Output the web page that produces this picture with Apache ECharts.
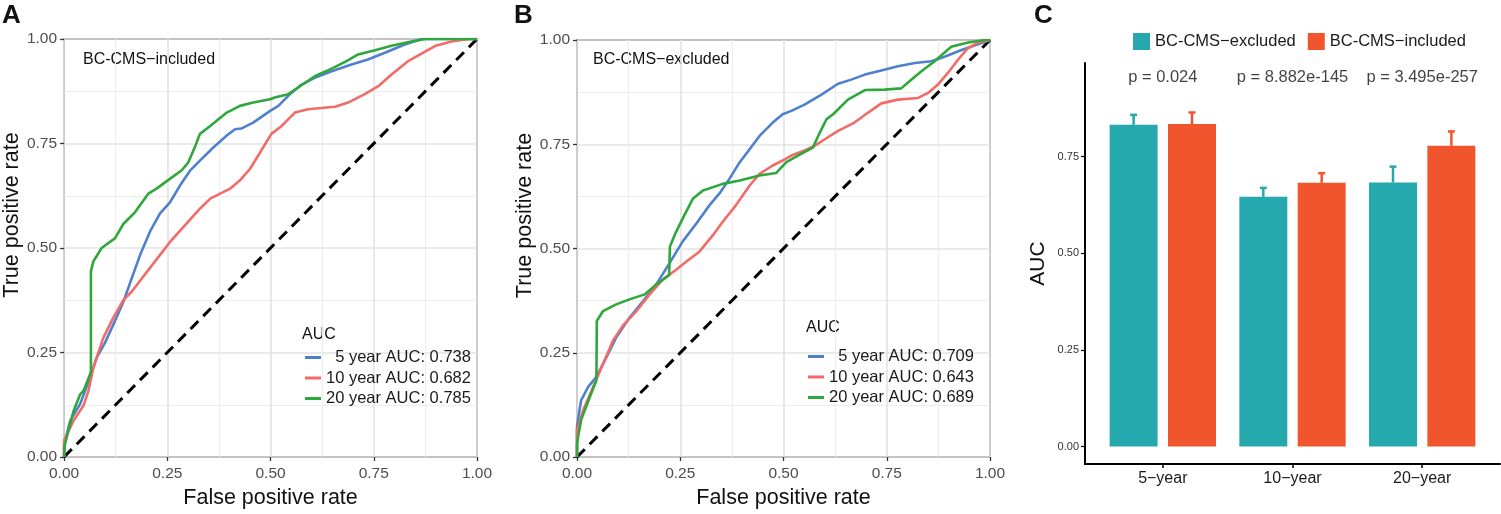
<!DOCTYPE html>
<html>
<head>
<meta charset="utf-8">
<script src="https://cdn.jsdelivr.net/npm/echarts@6/dist/echarts.min.js"></script>
<style>
html, body { margin: 0; padding: 0; background: #fff; }
#main { width: 1501px; height: 514px; }
</style>
</head>
<body>
<div id="main"></div>
<script>
// ROC curves, panel A (BC-CMS-included), [false positive rate, true positive rate]
var rocA5 = [[0,0],[0,0.03],[0.015,0.087],[0.039,0.127],[0.063,0.19],[0.079,0.238],[0.099,0.273],[0.123,0.325],[0.144,0.372],[0.164,0.428],[0.184,0.483],[0.208,0.539],[0.232,0.582],[0.257,0.61],[0.281,0.65],[0.305,0.685],[0.329,0.709],[0.362,0.741],[0.394,0.769],[0.414,0.784],[0.43,0.786],[0.458,0.8],[0.499,0.828],[0.519,0.84],[0.547,0.868],[0.575,0.891],[0.607,0.907],[0.648,0.923],[0.696,0.939],[0.736,0.951],[0.777,0.967],[0.825,0.987],[0.866,1],[1,1]];
var rocA10 = [[0,0],[0,0.04],[0.023,0.087],[0.047,0.123],[0.059,0.158],[0.071,0.214],[0.095,0.285],[0.119,0.333],[0.144,0.376],[0.164,0.396],[0.192,0.432],[0.232,0.483],[0.257,0.515],[0.297,0.559],[0.329,0.594],[0.354,0.618],[0.378,0.63],[0.402,0.642],[0.426,0.662],[0.45,0.689],[0.475,0.729],[0.502,0.773],[0.527,0.792],[0.559,0.824],[0.591,0.832],[0.656,0.838],[0.688,0.848],[0.728,0.868],[0.761,0.887],[0.793,0.915],[0.833,0.947],[0.866,0.965],[0.898,0.983],[0.938,0.994],[0.979,1],[1,1]];
var rocA20 = [[0,0],[0.002,0.03],[0.023,0.11],[0.039,0.15],[0.047,0.158],[0.063,0.198],[0.065,0.205],[0.065,0.444],[0.071,0.468],[0.091,0.5],[0.123,0.523],[0.144,0.558],[0.172,0.586],[0.204,0.63],[0.224,0.642],[0.257,0.666],[0.285,0.686],[0.301,0.705],[0.317,0.742],[0.329,0.773],[0.354,0.792],[0.394,0.824],[0.426,0.84],[0.458,0.848],[0.499,0.856],[0.51,0.86],[0.543,0.868],[0.567,0.884],[0.607,0.911],[0.648,0.929],[0.684,0.947],[0.712,0.963],[0.753,0.973],[0.793,0.984],[0.841,0.994],[0.874,1],[1,1]];

// ROC curves, panel B (BC-CMS-excluded)
var rocB5 = [[0,0],[0,0.073],[0.01,0.136],[0.027,0.168],[0.047,0.192],[0.071,0.239],[0.095,0.287],[0.127,0.334],[0.16,0.374],[0.192,0.414],[0.224,0.465],[0.256,0.517],[0.289,0.56],[0.321,0.604],[0.345,0.632],[0.369,0.667],[0.394,0.707],[0.418,0.738],[0.442,0.77],[0.474,0.802],[0.498,0.822],[0.519,0.83],[0.551,0.845],[0.592,0.869],[0.632,0.895],[0.664,0.905],[0.697,0.917],[0.737,0.927],[0.777,0.937],[0.818,0.945],[0.858,0.949],[0.89,0.96],[0.931,0.976],[0.971,0.99],[1,1]];
var rocB10 = [[0,0],[0,0.065],[0.015,0.112],[0.039,0.168],[0.063,0.223],[0.087,0.279],[0.111,0.315],[0.144,0.35],[0.176,0.39],[0.208,0.426],[0.24,0.449],[0.265,0.469],[0.297,0.493],[0.329,0.532],[0.353,0.564],[0.385,0.604],[0.418,0.651],[0.442,0.679],[0.474,0.699],[0.498,0.711],[0.519,0.723],[0.551,0.735],[0.575,0.746],[0.6,0.762],[0.632,0.782],[0.672,0.802],[0.705,0.826],[0.737,0.848],[0.777,0.857],[0.826,0.861],[0.85,0.873],[0.874,0.893],[0.898,0.921],[0.922,0.952],[0.946,0.98],[0.971,0.994],[1,1]];
var rocB20 = [[0,0],[0,0.033],[0.01,0.089],[0.031,0.144],[0.047,0.184],[0.048,0.326],[0.063,0.35],[0.095,0.366],[0.127,0.378],[0.164,0.39],[0.192,0.414],[0.223,0.436],[0.225,0.505],[0.24,0.54],[0.26,0.58],[0.281,0.62],[0.305,0.639],[0.353,0.655],[0.394,0.663],[0.442,0.675],[0.482,0.681],[0.5,0.7],[0.507,0.707],[0.535,0.723],[0.571,0.742],[0.588,0.778],[0.604,0.81],[0.62,0.822],[0.656,0.857],[0.697,0.88],[0.745,0.881],[0.785,0.884],[0.805,0.901],[0.834,0.925],[0.866,0.949],[0.906,0.984],[0.947,0.994],[0.987,1],[1,1]];
var diagonal = [[0,0],[1,1]];

var rocNamesA = ['5 year AUC: 0.738', '10 year AUC: 0.682', '20 year AUC: 0.785'];
var rocNamesB = ['5 year AUC: 0.709', '10 year AUC: 0.643', '20 year AUC: 0.689'];

// panel C bars
var categories = ['5\u2212year', '10\u2212year', '20\u2212year'];
var groups = ['BC-CMS\u2212excluded', 'BC-CMS\u2212included'];
var excludedAUC = [0.832, 0.646, 0.683];
var excludedUpper = [0.858, 0.669, 0.724];
var includedAUC = [0.834, 0.682, 0.778];
var includedUpper = [0.864, 0.707, 0.815];
var pLabels = ['p = 0.024', 'p = 8.882e-145', 'p = 3.495e-257'];
var aucTicks = [0, 0.25, 0.5, 0.75];

var FONT = '"Liberation Sans", Arial, Helvetica, sans-serif';
var rocColors = ['#4F80D0', '#F26B66', '#2EA83A'];
var barColors = ['#25A9AE', '#F0552D'];

var chart = echarts.init(document.getElementById('main'));

function rocX(idx) {
    return {
        type: 'value', gridIndex: idx, min: 0, max: 1, interval: 0.25,
        axisLine: { show: false },
        axisTick: { show: true, length: 4, lineStyle: { color: '#333', width: 1.3 } },
        axisLabel: { margin: 9, fontSize: 15.5, color: '#4D4D4D', fontFamily: FONT,
            formatter: function (v) { return v.toFixed(2); } },
        splitLine: { show: true, lineStyle: { color: '#E3E3E3', width: 1.6 } },
        minorTick: { show: false, splitNumber: 2 },
        minorSplitLine: { show: true, lineStyle: { color: '#EDEDED', width: 1 } },
        name: 'False positive rate', nameLocation: 'middle', nameGap: 30,
        nameTextStyle: { fontSize: 21.5, color: '#111', fontFamily: FONT }
    };
}
function rocY(idx) {
    var a = rocX(idx);
    a.name = 'True positive rate';
    a.nameGap = 36;
    a.axisLabel.margin = 7;
    a.nameTextStyle.padding = [0, 0, 0, 66];
    return a;
}
function rocSeries(idx, names, sets) {
    var out = [{
        type: 'line', xAxisIndex: idx, yAxisIndex: idx, data: diagonal,
        symbol: 'none', z: 2, silent: true,
        lineStyle: { color: '#000', width: 3, type: [11, 7] }
    }];
    sets.forEach(function (d, i) {
        out.push({
            type: 'line', name: names[i], xAxisIndex: idx, yAxisIndex: idx, data: d,
            symbol: 'none', z: 3,
            lineStyle: { color: rocColors[i], width: 2.6 },
            itemStyle: { color: rocColors[i] }
        });
    });
    return out;
}
function rocLegend(names, left, top) {
    return {
        data: names, orient: 'vertical', left: left, top: top, padding: 0,
        icon: 'rect', itemWidth: 16, itemHeight: 3, itemGap: 3.5,
        selectedMode: false,
        textStyle: { fontSize: 16.5, color: '#1a1a1a', fontFamily: FONT, lineHeight: 16 },
        formatter: function (n) { return n.charAt(0) === '5' ? '\u2007' + n : n; }
    };
}
function barRenderer(offset, color) {
    return function (params, api) {
        var x = api.value(0) + offset;
        var tl = api.coord([x - 0.185, api.value(1)]);
        var br = api.coord([x + 0.185, 0]);
        var base = api.coord([x, api.value(1)]);
        var tip = api.coord([x, api.value(2)]);
        return {
            type: 'group',
            children: [
                { type: 'rect', shape: { x: tl[0], y: tl[1], width: br[0] - tl[0], height: br[1] - tl[1] },
                  style: { fill: color } },
                { type: 'line', shape: { x1: base[0], y1: base[1], x2: tip[0], y2: tip[1] },
                  style: { stroke: color, lineWidth: 2.5 } },
                { type: 'line', shape: { x1: tip[0] - 3.5, y1: tip[1], x2: tip[0] + 3.5, y2: tip[1] },
                  style: { stroke: color, lineWidth: 2.5 } }
            ]
        };
    };
}
function txt(s, x, y, size, weight) {
    return { type: 'text', x: x, y: y, silent: true,
        style: { text: s, fill: '#111', font: (weight || 'normal') + ' ' + size + 'px ' + FONT,
                 verticalAlign: 'middle', align: 'left' } };
}

var option = {
    backgroundColor: '#fff',
    animation: false,
    textStyle: { fontFamily: FONT },
    grid: [
        { left: 64, top: 39, width: 413, height: 422, show: true, borderColor: '#333', borderWidth: 1.3, backgroundColor: 'transparent' },
        { left: 577, top: 40, width: 413, height: 421, show: true, borderColor: '#333', borderWidth: 1.3, backgroundColor: 'transparent' },
        { left: 1085, top: 63, width: 415, height: 401 }
    ],
    xAxis: [rocX(0), rocX(1), {
        type: 'value', gridIndex: 2, min: 0.4, max: 3.6,
        axisLine: { onZero: false, lineStyle: { color: '#000', width: 2 } },
        axisTick: { show: true, customValues: [1, 2, 3], length: 4, lineStyle: { color: '#000', width: 1.5 } },
        axisLabel: { customValues: [1, 2, 3], fontSize: 16, color: '#1a1a1a', margin: 7, fontFamily: FONT,
            formatter: function (v) { return categories[Math.round(v) - 1]; } },
        splitLine: { show: false }
    }],
    yAxis: [rocY(0), rocY(1), {
        type: 'value', gridIndex: 2, min: -0.045, max: 0.992,
        axisLine: { show: true, onZero: false, lineStyle: { color: '#000', width: 2 } },
        axisTick: { show: true, customValues: aucTicks, length: 4, lineStyle: { color: '#000', width: 1.2 } },
        axisLabel: { customValues: aucTicks, fontSize: 11, color: '#333', margin: 6, fontFamily: FONT,
            formatter: function (v) { return v.toFixed(2); } },
        splitLine: { show: false },
        name: 'AUC', nameLocation: 'middle', nameGap: 36,
        nameTextStyle: { fontSize: 21, color: '#111', fontFamily: FONT }
    }],
    legend: [
        rocLegend(rocNamesA, 305, 349),
        rocLegend(rocNamesB, 808, 348),
        {
            data: groups, left: 1133, top: 33, padding: 0, icon: 'rect', itemWidth: 17, itemHeight: 17, itemGap: 12,
            selectedMode: false,
            textStyle: { fontSize: 16.5, color: '#1a1a1a', fontFamily: FONT }
        }
    ],
    graphic: [
        txt('A', 2, 16, 26, 'bold'),
        txt('B', 514, 16, 26, 'bold'),
        txt('C', 1034, 16, 26, 'bold'),
        txt('BC-CMS\u2212included', 83, 60, 16),
        txt('BC-CMS\u2212excluded', 593, 60, 16),
        txt('AUC', 302, 335, 16),
        txt('AUC', 806, 328, 16)
    ],
    series: rocSeries(0, rocNamesA, [rocA5, rocA10, rocA20])
        .concat(rocSeries(1, rocNamesB, [rocB5, rocB10, rocB20]))
        .concat([
            {
                type: 'custom', name: groups[0], xAxisIndex: 2, yAxisIndex: 2,
                itemStyle: { color: barColors[0] },
                renderItem: barRenderer(-0.225, barColors[0]),
                data: categories.map(function (c, i) { return [i + 1, excludedAUC[i], excludedUpper[i]]; })
            },
            {
                type: 'custom', name: groups[1], xAxisIndex: 2, yAxisIndex: 2,
                itemStyle: { color: barColors[1] },
                renderItem: barRenderer(0.225, barColors[1]),
                data: categories.map(function (c, i) { return [i + 1, includedAUC[i], includedUpper[i]]; })
            },
            {
                type: 'scatter', xAxisIndex: 2, yAxisIndex: 2, symbolSize: 0, silent: true,
                data: categories.map(function (c, i) { return [i + 1, 0.955]; }),
                label: { show: true, position: 'inside', fontSize: 16.5, color: '#111', fontFamily: FONT,
                    formatter: function (p) { return pLabels[p.dataIndex]; } }
            }
        ])
};
chart.setOption(option);
</script>
</body>
</html>
